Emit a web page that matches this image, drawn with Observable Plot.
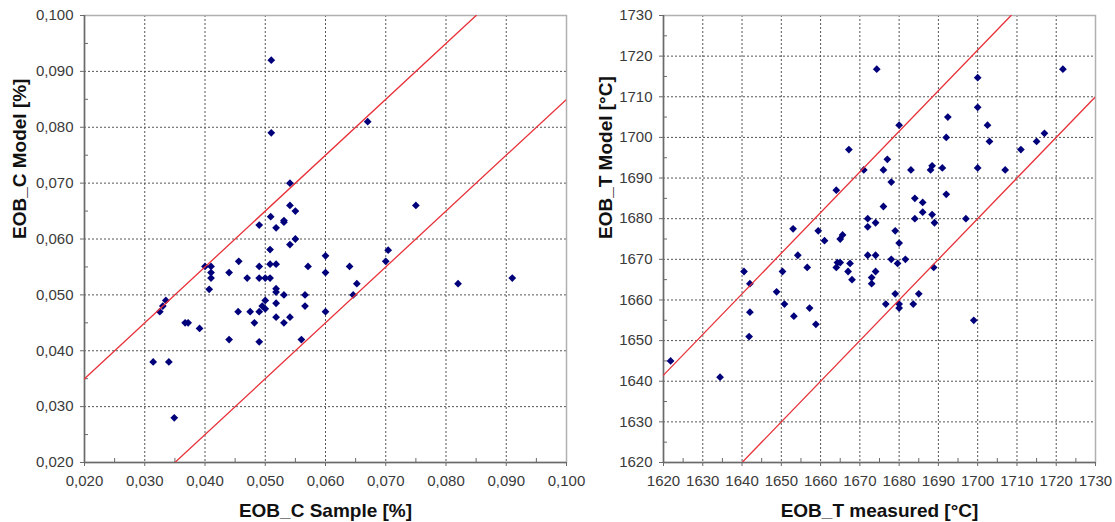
<!DOCTYPE html>
<html><head><meta charset="utf-8">
<script src="https://cdn.jsdelivr.net/npm/d3@7"></script>
<script src="https://cdn.jsdelivr.net/npm/@observablehq/plot@0.6"></script>
<style>
html,body{margin:0;padding:0;background:#fff;}
#wrap{display:flex;width:1115px;height:522px;overflow:hidden;background:#fff;}
</style></head><body><div id="wrap"></div>
<script>
// ---- Left chart: carbon (EOB_C) ----
const cSample = [0.0314,0.034,0.0349,0.0325,0.033,0.0335,0.0367,0.0372,0.0391,0.040,
  0.041,0.041,0.041,0.0407,0.044,0.044,0.0456,0.0455,0.047,0.0475,
  0.0482,0.049,0.049,0.049,0.049,0.049,0.050,0.050,0.0495,0.050,
  0.0509,0.0508,0.0508,0.0508,0.051,0.051,0.0518,0.0518,0.0518,0.0518,
  0.0518,0.0518,0.0531,0.0531,0.0531,0.0531,0.0541,0.0541,0.055,0.055,
  0.0541,0.0541,0.0566,0.0566,0.0571,0.056,0.060,0.060,0.060,0.064,
  0.0646,0.0652,0.067,0.0704,0.070,0.075,0.082,0.091];
const cModel = [0.038,0.038,0.028,0.047,0.048,0.049,0.045,0.045,0.044,0.0551,
  0.0551,0.054,0.053,0.051,0.054,0.042,0.056,0.047,0.053,0.047,
  0.045,0.0625,0.0551,0.053,0.047,0.0416,0.053,0.049,0.048,0.0475,
  0.064,0.0581,0.0555,0.053,0.092,0.079,0.0555,0.062,0.0511,0.0505,
  0.0485,0.046,0.0633,0.063,0.050,0.045,0.070,0.066,0.065,0.060,
  0.059,0.046,0.050,0.048,0.0551,0.042,0.057,0.054,0.047,0.0551,
  0.050,0.052,0.081,0.058,0.056,0.066,0.052,0.053];
const cTicks = [0.02,0.03,0.04,0.05,0.06,0.07,0.08,0.09,0.10];
const cMinor = [0.025,0.035,0.045,0.055,0.065,0.075,0.085,0.095];
const cUpper = [[0.020,0.035],[0.085,0.100]];
const cLower = [[0.035,0.020],[0.100,0.085]];

// ---- Right chart: temperature (EOB_T) ----
const tMeasured = [1621.8,1634.4,1640.5,1642,1642,1641.8,1648.8,1650.3,1650.8,1653.2,
  1653,1654.2,1656.6,1657.2,1658.8,1659.4,1661,1664,1665.6,1665,
  1664.3,1665,1664,1667.5,1667,1668,1667.2,1671,1672,1674,
  1674,1673,1673,1672,1674,1672,1674.3,1676,1677,1678,
  1676,1678,1679.6,1681.6,1679,1680,1680,1679,1676.6,1680,
  1680,1683,1683.6,1685,1688,1688.4,1691,1684,1686,1686,
  1684,1688.4,1689,1688.8,1692,1692,1692.4,1697,1699,1700,
  1700,1700,1702.5,1703,1707,1711,1715,1717,1721.7];
const tModel = [1645,1641,1667,1664,1657,1651,1662,1667,1659,1656,
  1677.5,1671,1668,1658,1654,1677,1674.6,1687,1676,1675,
  1669.2,1669.2,1668,1669,1667,1665,1697,1692,1671,1671,
  1667,1665.5,1664,1680,1679,1678,1716.8,1692,1694.6,1689,
  1683,1670,1669,1670,1677,1674,1703,1661.5,1659,1659,
  1658,1692,1659,1661.5,1692,1693,1692.5,1685,1684,1681.6,
  1680,1681,1679,1668,1686,1700,1705,1680,1655,1714.7,
  1707.4,1692.5,1703,1699,1692,1697,1699,1701,1716.8];
const tTicks = [1620,1630,1640,1650,1660,1670,1680,1690,1700,1710,1720,1730];
const tMinor = [1625,1635,1645,1655,1665,1675,1685,1695,1705,1715,1725];
const tUpper = [[1620,1641.5],[1708.5,1730]];
const tLower = [[1640,1620],[1730,1710]];

const FONT = '"Liberation Sans", Arial, sans-serif';
const H = 522, MT = 15, MB = 60;

function scatter({width, marginLeft, marginRight, domain, ticks, minor, fmt,
                  xs, ys, upper, lower, xLabel, yLabel, yLabelDx}) {
  const plotW = width - marginLeft - marginRight;
  const plotH = H - MT - MB;
  return Plot.plot({
    width, height: H, marginLeft, marginRight, marginTop: MT, marginBottom: MB,
    style: {fontFamily: FONT, fontSize: "15px", background: "transparent", overflow: "visible"},
    x: {domain, type: "linear"},
    y: {domain, type: "linear"},
    marks: [
      Plot.gridX(ticks, {stroke: "#555", strokeOpacity: 1, strokeDasharray: "2,2"}),
      Plot.gridY(ticks, {stroke: "#555", strokeOpacity: 1, strokeDasharray: "2,2"}),
      Plot.frame({stroke: "#b0b0b0", strokeWidth: 1.5}),
      Plot.ruleX([domain[0]], {stroke: "#6a6a6a", strokeWidth: 1.5}),
      Plot.ruleY([domain[0]], {stroke: "#6a6a6a", strokeWidth: 1.5}),
      Plot.tickY(minor, {y: d => d, insetRight: plotW - 4, stroke: "#6a6a6a"}),
      Plot.tickX(minor, {x: d => d, insetTop: plotH - 4, stroke: "#6a6a6a"}),
      Plot.dot(xs, {x: xs, y: ys, symbol: "diamond2", r: 3.5, fill: "#00007a", stroke: "none"}),
      Plot.line(upper, {x: d => d[0], y: d => d[1], stroke: "#e8323a", strokeWidth: 1.3, clip: true}),
      Plot.line(lower, {x: d => d[0], y: d => d[1], stroke: "#e8323a", strokeWidth: 1.3, clip: true}),
      Plot.axisX(ticks, {tickFormat: fmt, tickSize: 4, tickPadding: 9, fontSize: 15,
                         fill: "#3a3a3a", stroke: "#6a6a6a", label: null}),
      Plot.axisY(ticks, {tickFormat: fmt, tickSize: 4, tickPadding: 7, fontSize: 15,
                         fill: "#3a3a3a", stroke: "#6a6a6a", label: null}),
      Plot.text([xLabel], {frameAnchor: "bottom", dy: 48, text: d => d, fontWeight: "bold",
                           fontSize: 19, fill: "#111", lineAnchor: "middle"}),
      Plot.text([yLabel], {frameAnchor: "left", dx: yLabelDx, text: d => d, rotate: -90,
                           fontWeight: "bold", fontSize: 19, fill: "#111", lineAnchor: "middle"})
    ]
  });
}

const wrap = document.getElementById("wrap");
wrap.append(scatter({
  width: 580, marginLeft: 84, marginRight: 14, domain: [0.02, 0.10],
  ticks: cTicks, minor: cMinor, fmt: d => d.toFixed(3).replace(".", ","),
  xs: cSample, ys: cModel, upper: cUpper, lower: cLower,
  xLabel: "EOB_C Sample [%]", yLabel: "EOB_C Model [%]", yLabelDx: -65
}));
wrap.append(scatter({
  width: 535, marginLeft: 83, marginRight: 20, domain: [1620, 1730],
  ticks: tTicks, minor: tMinor, fmt: d => String(d),
  xs: tMeasured, ys: tModel, upper: tUpper, lower: tLower,
  xLabel: "EOB_T measured [°C]", yLabel: "EOB_T Model [°C]", yLabelDx: -58
}));
</script></body></html>
